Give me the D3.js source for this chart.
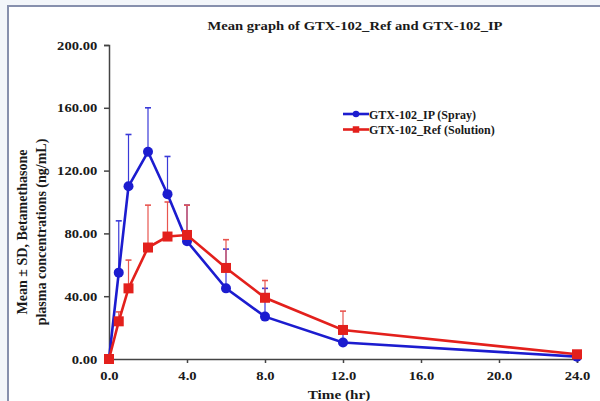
<!DOCTYPE html>
<html>
<head>
<meta charset="utf-8">
<script src="https://cdn.jsdelivr.net/npm/d3@7"></script>
<style>
  body { margin: 0; background: #f3f6fa; }
  svg { display: block; }
  text { font-family: "Liberation Serif", "Times New Roman", serif; font-weight: bold; fill: #1a1a1a; }
</style>
</head>
<body>
<script>
"use strict";

// data, time in hours
var times = [0, 0.5, 1, 2, 3, 4, 6, 8, 12, 24];
var ipMean = [0, 55, 110, 132, 105, 75, 45, 27, 10.5, 1.5];
var ipSD = [0, 33, 33, 28, 24, 23, 25, 18, 9, 1];
var refMean = [0, 24, 45, 71, 78, 79, 58, 39, 18.5, 3];
var refSD = [0, 6, 18, 27, 22, 19, 18, 11, 12, 2];
var seriesNames = ["GTX-102_IP (Spray)", "GTX-102_Ref (Solution)"];
var xTicks = [0, 4, 8, 12, 16, 20, 24];
var yTicks = [0, 40, 80, 120, 160, 200];

var margin = {top: 45, right: 23, bottom: 42, left: 109},
    width = 600 - margin.left - margin.right,
    height = 401 - margin.top - margin.bottom;

// the source picture is a bit wider than tall, so text gets stretched sideways
var stretch = 1.17;

var x = d3.scaleLinear().domain([0, 24]).range([0, width]);
var y = d3.scaleLinear().domain([0, 200]).range([height, 0]);

var svg = d3.select("body").append("svg")
    .attr("width", 600)
    .attr("height", 401);

// white panel with the grey-blue frame on top and left
svg.append("rect")
    .attr("x", 8).attr("y", 6)
    .attr("width", 600).attr("height", 401)
    .attr("fill", "#fff");
svg.append("path")
    .attr("d", "M8,401V6H600")
    .attr("fill", "none")
    .attr("stroke", "#8790ad")
    .attr("stroke-width", 2);

// put a label at (px,py) and widen it
function label(px, py, size, str, anchor) {
  return svg.append("text")
    .attr("transform", "translate(" + px + "," + py + ") scale(" + stretch + ",1)")
    .attr("text-anchor", anchor || "middle")
    .style("font-size", size + "px")
    .text(str);
}

label(355, 30, 12.5, "Mean graph of GTX-102_Ref and GTX-102_IP");

var g = svg.append("g")
    .attr("transform", "translate(" + margin.left + "," + margin.top + ")");

// axes
var xAxis = g.append("g")
    .attr("transform", "translate(0," + height + ")")
    .call(d3.axisBottom(x).tickValues(xTicks).tickSizeOuter(0).tickSize(4).tickPadding(8)
      .tickFormat(d3.format(".1f")));
var yAxis = g.append("g")
    .call(d3.axisLeft(y).tickValues(yTicks).tickSizeOuter(0).tickSize(5).tickPadding(5)
      .tickFormat(d3.format(".2f")));
[xAxis, yAxis].forEach(function(a) {
  a.select(".domain").attr("stroke", "#444").attr("stroke-width", 1.5);
  a.selectAll(".tick line").attr("stroke", "#444").attr("stroke-width", 1.5);
  a.selectAll("text")
    .attr("transform", "scale(" + stretch + ",1)")
    .style("font-size", "12.5px")
    .style("font-family", "Liberation Serif, serif")
    .style("font-weight", "bold")
    .attr("fill", "#1a1a1a");
});

// axis titles
label(339, 399, 13, "Time (hr)");
var ylab = svg.append("text")
    .attr("transform", "translate(27,232) rotate(-90)")
    .attr("text-anchor", "middle")
    .style("font-size", "14px");
ylab.append("tspan").attr("x", 0).attr("dy", 0).text("Mean \u00b1 SD, Betamethasone");
ylab.append("tspan").attr("x", 0).attr("dy", 19).text("plasma concentrations (ng/mL)");

var series = [
  {name: seriesNames[0], mean: ipMean, sd: ipSD, color: "#1c1ccf", bar: "#3a3ad8", shape: "circle"},
  {name: seriesNames[1], mean: refMean, sd: refSD, color: "#e3201c", bar: "#e8554f", shape: "square"}
];

var line = d3.line()
    .x(function(d) { return x(d.t); })
    .y(function(d) { return y(d.v); });

function drawMarker(sel, s, size) {
  if (s.shape === "circle") {
    sel.append("circle").attr("r", size / 2).attr("fill", s.color);
  } else {
    sel.append("rect")
      .attr("x", -size / 2).attr("y", -size / 2)
      .attr("width", size).attr("height", size)
      .attr("fill", s.color);
  }
}

// error bars first (upper only), then lines and markers
series.forEach(function(s) {
  var pts = times.map(function(t, i) { return {t: t, v: s.mean[i], sd: s.sd[i]}; });
  var eb = g.append("g").attr("stroke", s.bar).attr("stroke-width", 1.2);
  pts.filter(function(d) { return d.sd > 0; }).forEach(function(d) {
    eb.append("line")
      .attr("x1", x(d.t)).attr("x2", x(d.t))
      .attr("y1", y(d.v)).attr("y2", y(d.v + d.sd));
    eb.append("line")
      .attr("x1", x(d.t) - 3).attr("x2", x(d.t) + 3)
      .attr("y1", y(d.v + d.sd)).attr("y2", y(d.v + d.sd))
      .attr("stroke-width", 1.6);
  });
  s.pts = pts;
});

series.forEach(function(s) {
  g.append("path")
    .datum(s.pts)
    .attr("fill", "none")
    .attr("stroke", s.color)
    .attr("stroke-width", 2.6)
    .attr("d", line);
  g.selectAll(null)
    .data(s.pts)
    .enter().append("g")
    .attr("transform", function(d) { return "translate(" + x(d.t) + "," + y(d.v) + ")"; })
    .each(function() { drawMarker(d3.select(this), s, 10); });
});

// legend
var legend = svg.append("g").attr("transform", "translate(343,114)");
series.forEach(function(s, i) {
  var row = legend.append("g").attr("transform", "translate(0," + (i * 15.5) + ")");
  row.append("line")
    .attr("x1", 0).attr("x2", 26)
    .attr("stroke", s.color).attr("stroke-width", 2.6);
  drawMarker(row.append("g").attr("transform", "translate(13,0)"), s, 6.5);
  row.append("text")
    .attr("x", 26).attr("y", 4.5)
    .style("font-size", "12px")
    .text(s.name);
});
</script>
</body>
</html>
